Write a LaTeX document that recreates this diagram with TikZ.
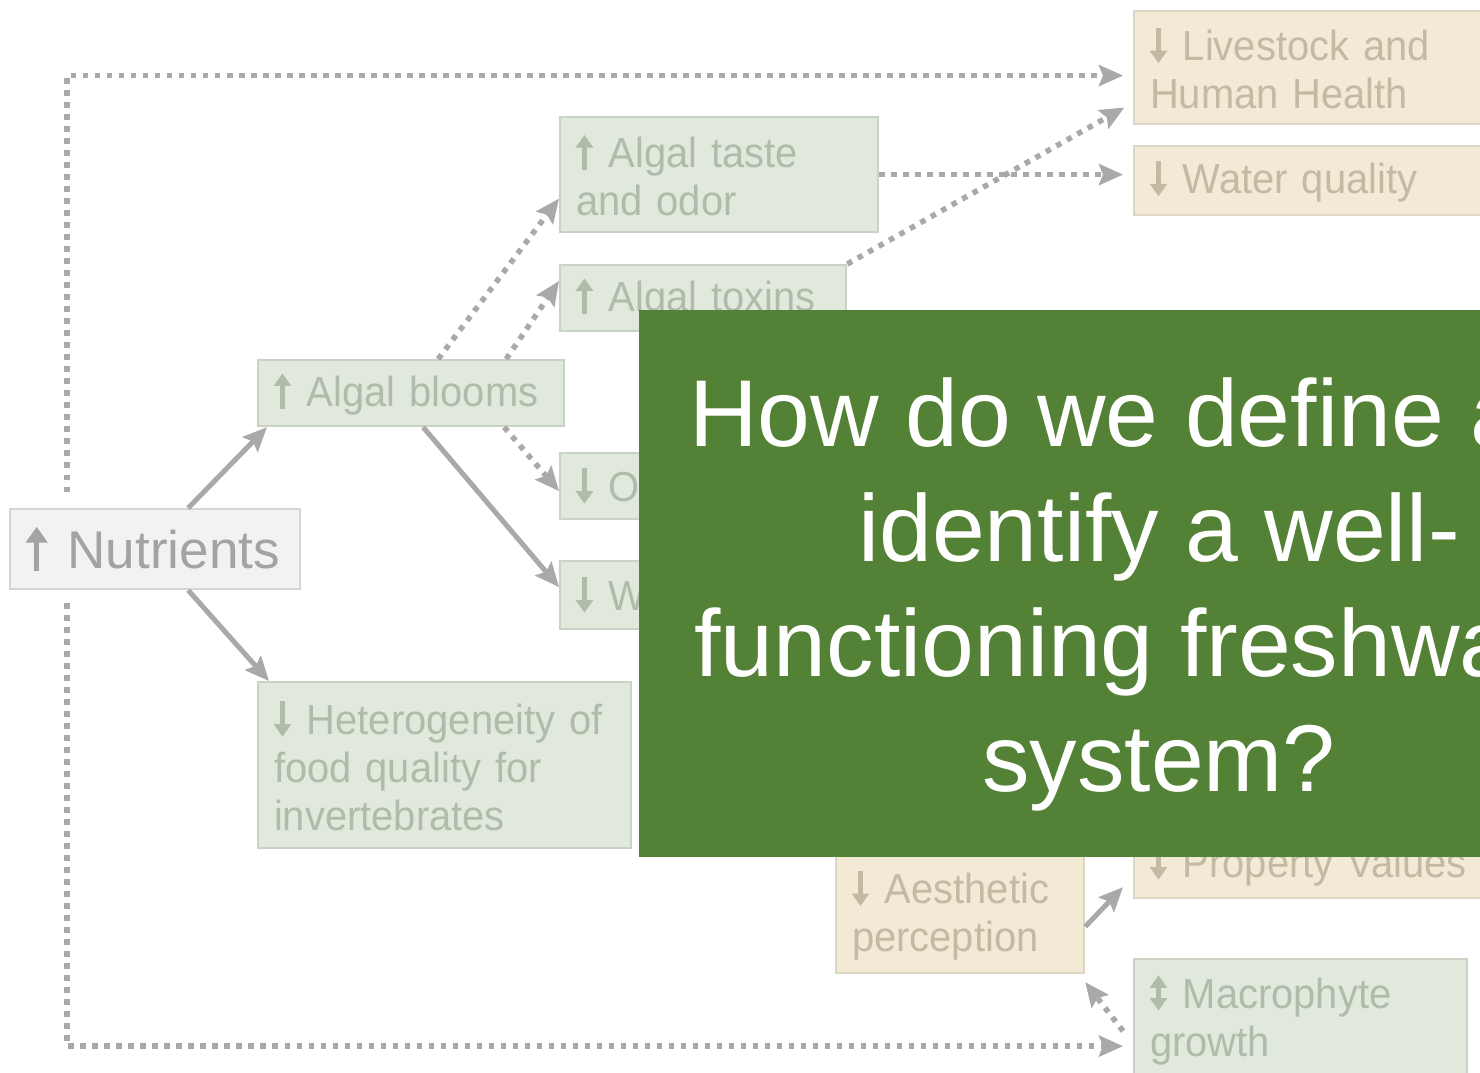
\documentclass[tikz,border=0pt]{standalone}
\usepackage{fontspec}
\setmainfont{Liberation Sans}
\newfontfamily\boxfont[FakeStretch=0.95]{Liberation Sans}
\usetikzlibrary{positioning}
\usetikzlibrary{arrows.meta}

\definecolor{algae}{HTML}{E1E9DC}
\definecolor{algaeline}{HTML}{C9D2C4}
\definecolor{algaetext}{HTML}{B0BCAA}
\definecolor{human}{HTML}{F3EAD6}
\definecolor{humanline}{HTML}{DDD6C6}
\definecolor{humantext}{HTML}{C2BAA3}
\definecolor{nutfill}{HTML}{F2F2F2}
\definecolor{nutline}{HTML}{D5D5D5}
\definecolor{nuttext}{HTML}{A3A3A3}
\definecolor{link}{HTML}{A9A9A9}
\definecolor{slidegreen}{HTML}{538135}

% small trend arrows set in front of the box labels
\newcommand{\trendarrow}[1]{\tikz[baseline=0pt]\draw[line width=.1em, #1] (0,-.06em) -- (0,.78em);\hspace{.38em}}
\newcommand{\upmark}{\trendarrow{-{Triangle[length=.3em,width=.4em]}}}
\newcommand{\downmark}{\trendarrow{{Triangle[length=.3em,width=.4em]}-}}
\newcommand{\bothmark}{\trendarrow{{Triangle[length=.3em,width=.4em]}-{Triangle[length=.3em,width=.4em]}}}

\begin{document}
\begin{tikzpicture}[x=.01cm, y=-.01cm,
	effect/.style={rectangle, anchor=north west, align=left, inner xsep=.16cm, inner ysep=0pt, line width=.6pt, font=\boxfont\fontsize{11.95}{13.7}\selectfont},
	ecol/.style={effect, draw=algaeline, fill=algae, text=algaetext},
	social/.style={effect, draw=humanline, fill=human, text=humantext},
	cause/.style={effect, draw=nutline, fill=nutfill, text=nuttext, font=\fontsize{15.1}{17}\selectfont},
	solidlink/.style={draw=link, line width=.05cm, -{Stealth[length=.24cm,width=.21cm,inset=.04cm]}},
	dotlink/.style={solidlink, line width=.055cm, dash pattern=on .055cm off .065cm},
	node distance=.2cm]
			\useasboundingbox[fill=white] (0,0) rectangle (1480,1072);
			\clip (0,0) rectangle (1480,1072);
			\node[cause, text width=2.58cm, minimum height=.8cm] (nutrients) at (9,508) {\upmark Nutrients};
			\node[ecol, text width=2.74cm, minimum height=.66cm] (blooms) at (257,359) {\upmark Algal blooms};
			\node[ecol, text width=2.86cm, minimum height=1.15cm] (taste) at (559,116) {\upmark Algal taste\\and odor};
			\node[ecol, text width=2.54cm, minimum height=.66cm] (toxins) at (559,264) {\upmark Algal toxins};
			\node[ecol, text width=2.2cm, minimum height=.66cm] (oxygen) at (559,452) {\downmark O};
			\node[ecol, text width=2.2cm, minimum height=.68cm] (clarity) at (559,560) {\downmark W};
			\node[ecol, text width=3.41cm, minimum height=1.66cm] (hetero) at (257,681) {\downmark Heterogeneity of\\food quality for\\invertebrates};
			\node[social, text width=3.5cm, minimum height=1.13cm] (health) at (1133,10) {\downmark Livestock and\\Human Health};
			\node[social, text width=3.5cm, minimum height=.69cm] (water) [below=of health.south west, anchor=north west] {\downmark Water quality};
			\node[social, text width=2.16cm, minimum height=1.17cm] (aesthetic) at (835,855) {\downmark Aesthetic\\perception};
			\node[social, text width=3.5cm, minimum height=.68cm] (property) at (1133,829) {\downmark Property Values};
			\node[ecol, text width=3.01cm, minimum height=1.2cm] (macrophyte) at (1133,958) {\bothmark Macrophyte\\growth};
			\draw[solidlink] ([xshift=.33cm]nutrients.north) -- ([xshift=.1cm]blooms.south west);
			\draw[solidlink] ([xshift=.33cm]nutrients.south) -- ([xshift=.12cm]hetero.north west);
			\draw[dotlink] ([xshift=.27cm]blooms.north) -- ([yshift=-.24cm]taste.west);
			\draw[dotlink] ([xshift=.95cm]blooms.north) -- ([yshift=.17cm]toxins.west);
			\draw[dotlink] ([xshift=.93cm]blooms.south) -- ([yshift=-.05cm]oxygen.west);
			\draw[solidlink] ([xshift=.12cm]blooms.south) -- ([yshift=.08cm]clarity.west);
			\draw[dotlink, shorten >=.1cm] (taste.east) -- (taste.east -| water.west);
			\draw[dotlink, shorten >=.1cm] (toxins.north east) -- ([yshift=-.35cm]health.west);
			\draw[dotlink, shorten >=.1cm] ([shift={(-.88cm,.16cm)}]nutrients.north) |- ([yshift=-.08cm]health.west);
			\draw[dotlink, shorten >=.1cm] ([shift={(-.88cm,-.13cm)}]nutrients.south) |- ([yshift=-.27cm]macrophyte.west);
			\draw[solidlink] ([yshift=-.12cm]aesthetic.east) -- ([shift={(-.1cm,.12cm)}]property.south west);
			\draw[dotlink] ([shift={(-.1cm,-.12cm)}]macrophyte.west) -- ([yshift=-.08cm]aesthetic.south east);
			\node[fill=slidegreen, minimum width=10.4cm, minimum height=5.47cm, inner sep=0pt] (question) at (1159,583.5) {};
			\node[text=white, align=center, font=\fontsize{27}{32.7}\selectfont] (questiontext) at ([yshift=-.105cm]question.center) {How do we define and\\identify a well-\\functioning freshwater\\system?};
		\end{tikzpicture}
\end{document}
